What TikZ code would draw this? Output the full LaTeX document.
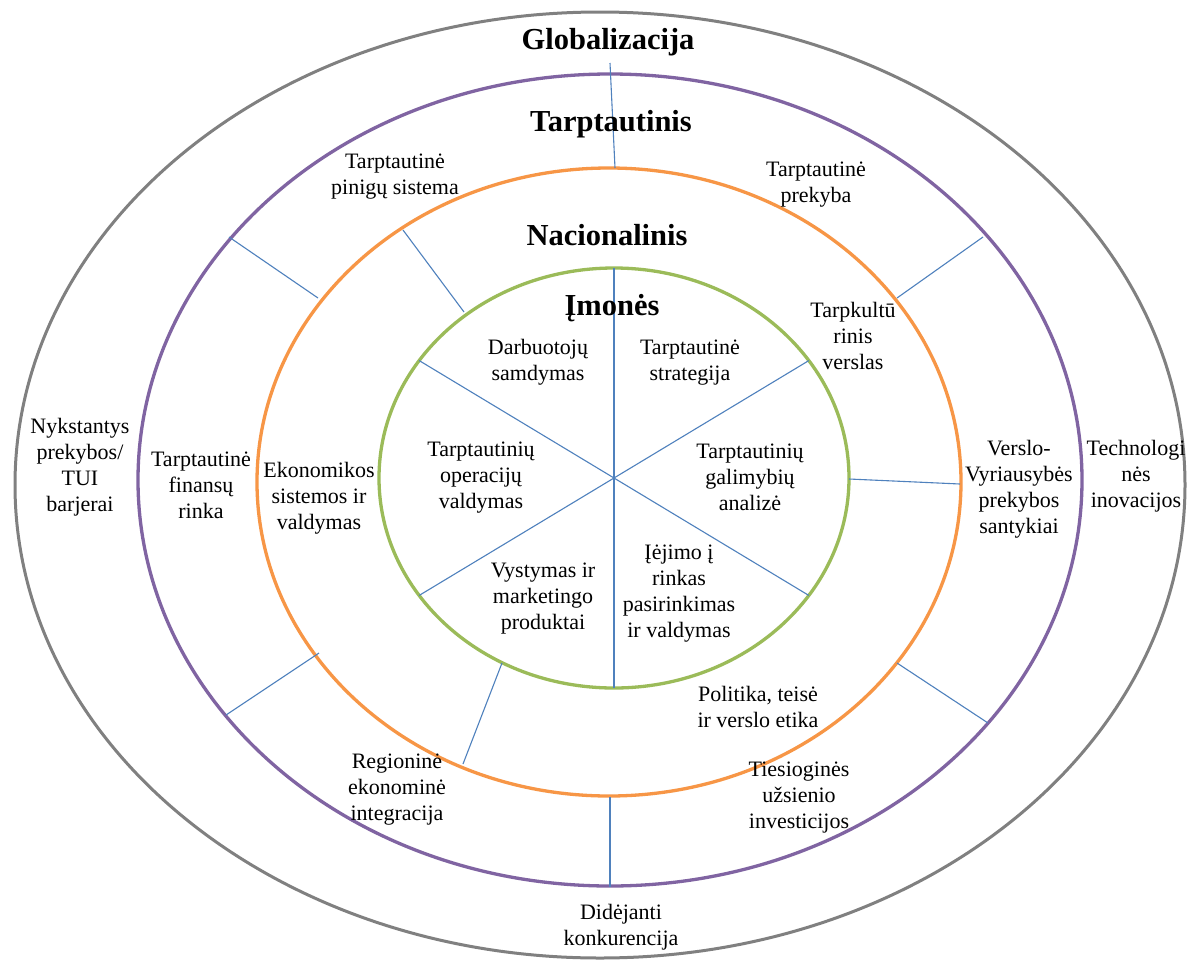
\documentclass[tikz,border=0pt]{standalone}
\usepackage{fontspec}
\setmainfont{Liberation Serif}
\usetikzlibrary{calc}
\definecolor{ringgray}{HTML}{808080}
\definecolor{ringpurple}{HTML}{8064A2}
\definecolor{ringorange}{HTML}{F79646}
\definecolor{ringgreen}{HTML}{9BBB59}
\definecolor{spokeblue}{HTML}{4F81BD}
\begin{document}
\begin{tikzpicture}[x=1pt,y=-1pt,
  ring/.style={line width=3.3pt},
  spokeline/.style={draw=spokeblue,line width=1.1pt},
  lbl/.style={align=center,inner sep=0pt,font=\fontsize{22}{26}\selectfont},
  head/.style={inner sep=0pt,font=\fontsize{30.5}{34}\selectfont\bfseries}]
\useasboundingbox (0,0) rectangle (1187,962);
\fill[white] (0,0) rectangle (1187,962);
% rings
\draw[ring,draw=ringgray,line width=3pt] (600,485) ellipse [x radius=585, y radius=473];
\draw[ring,draw=ringpurple] (610,480) ellipse [x radius=472, y radius=406];
\draw[ring,draw=ringorange] (609,482) ellipse [x radius=352, y radius=314];
\draw[ring,draw=ringgreen] (614,478) ellipse [x radius=235, y radius=210];
% inner spokes
\coordinate (c) at (614,478);
\coordinate (gT) at (614,268);
\coordinate (gB) at (614,688);
\coordinate (gUR) at ($(c)+({235*cos(34)},{-210*sin(34)})$);
\coordinate (gLR) at ($(c)+({235*cos(34)},{210*sin(34)})$);
\coordinate (gUL) at ($(c)+({-235*cos(34)},{-210*sin(34)})$);
\coordinate (gLL) at ($(c)+({-235*cos(34)},{210*sin(34)})$);
\draw[spokeline] (gT) -- (gB);
\draw[spokeline] (gUL) -- (gLR);
\draw[spokeline] (gUR) -- (gLL);
% ring connectors
\coordinate (t1) at (610,63);   \coordinate (t2) at (615,168);
\coordinate (a1) at (229,237);  \coordinate (a2) at (318,298);
\coordinate (b1) at (403,230);  \coordinate (b2) at (464,312);
\coordinate (d1) at (983,237);  \coordinate (d2) at (897,298);
\coordinate (e1) at (849,479);  \coordinate (e2) at (960,484);
\coordinate (f1) at (897,663);  \coordinate (f2) at (988,723);
\coordinate (h1) at (610,797);  \coordinate (h2) at (610,887);
\coordinate (k1) at (502,663);  \coordinate (k2) at (463,764);
\coordinate (m1) at (319,653);  \coordinate (m2) at (226,715);
\draw[spokeline] (t1) -- (t2);
\draw[spokeline] (a1) -- (a2);
\draw[spokeline] (b1) -- (b2);
\draw[spokeline] (d1) -- (d2);
\draw[spokeline] (e1) -- (e2);
\draw[spokeline] (f1) -- (f2);
\draw[spokeline] (h1) -- (h2);
\draw[spokeline] (k1) -- (k2);
\draw[spokeline] (m1) -- (m2);
% headings
\node[head] (hG) at (608,42) {Globalizacija};
\node[head] (hT) at (611,124) {Tarptautinis};
\node[head] (hN) at (607,235) {Nacionalinis};
\node[head] (hI) at (612,308) {Įmonės};
% labels
\node[lbl] (l1) at (395,177) {Tarptautinė\\pinigų sistema};
\node[lbl] (l2) at (816,185) {Tarptautinė\\prekyba};
\node[lbl] (l3) at (853,336) {Tarpkultū\\rinis\\verslas};
\node[lbl] (l4) at (538,362) {Darbuotojų\\samdymas};
\node[lbl] (l5) at (690,363) {Tarptautinė\\strategija};
\node[lbl] (l6) at (481,478) {Tarptautinių\\operacijų\\valdymas};
\node[lbl] (l7) at (750,477) {Tarptautinių\\galimybių\\analizė};
\node[lbl] (l8) at (319,498) {Ekonomikos\\sistemos ir\\valdymas};
\node[lbl] (l9) at (201,485) {Tarptautinė\\finansų\\rinka};
\node[lbl] (l10) at (80,467) {Nykstantys\\prekybos/\\TUI\\barjerai};
\node[lbl] (l11) at (1019,489) {Verslo-\\Vyriausybės\\prekybos\\santykiai};
\node[lbl] (l12) at (1136,476) {Technologi\\nės\\inovacijos};
\node[lbl] (l13) at (543,599) {Vystymas ir\\marketingo\\produktai};
\node[lbl] (l14) at (679,594) {Įėjimo į\\rinkas\\pasirinkimas\\ir valdymas};
\node[lbl] (l15) at (758,707) {Politika, teisė\\ir verslo etika};
\node[lbl] (l16) at (397,790) {Regioninė\\ekonominė\\integracija};
\node[lbl] (l17) at (799,798) {Tiesioginės\\užsienio\\investicijos};
\node[lbl] (l18) at (621,927) {Didėjanti\\konkurencija};
\end{tikzpicture}
\end{document}
